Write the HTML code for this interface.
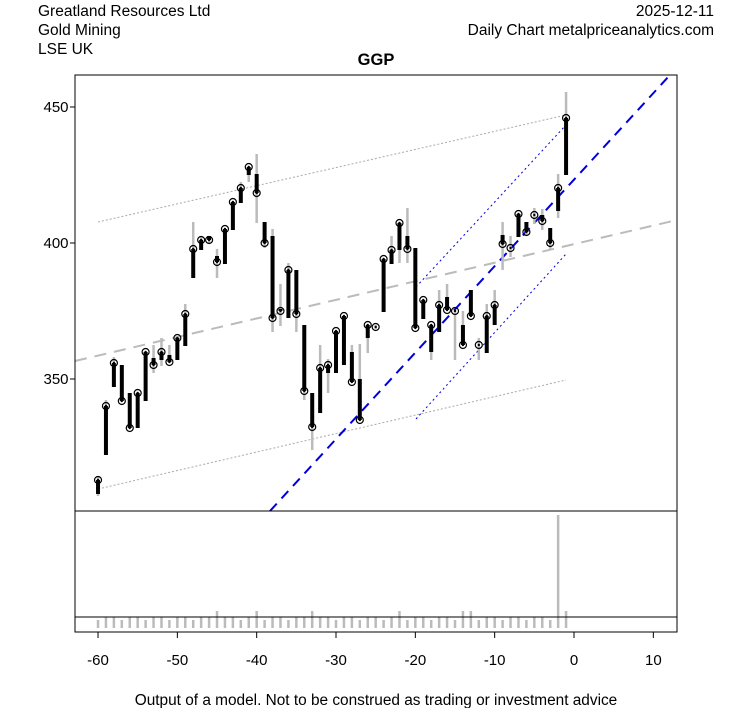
<!DOCTYPE html>
<html><head><meta charset="utf-8"><style>
body{margin:0;background:#fff}
svg{display:block;font-family:"Liberation Sans",Arial,sans-serif}
</style></head><body>
<svg id="s" width="753" height="708" xmlns="http://www.w3.org/2000/svg">
<rect width="753" height="708" fill="#fff"/>
<text x="38" y="16" font-size="15.5">Greatland Resources Ltd</text>
<text x="38" y="35" font-size="15.5">Gold Mining</text>
<text x="38" y="54" font-size="15.5">LSE UK</text>
<text x="714" y="16" font-size="15.5" text-anchor="end">2025-12-11</text>
<text x="714" y="35" font-size="15.5" text-anchor="end">Daily Chart metalpriceanalytics.com</text>
<text x="376" y="65" font-size="16.5" font-weight="bold" text-anchor="middle">GGP</text>
<text x="376" y="705" font-size="15.4" text-anchor="middle">Output of a model. Not to be construed as trading or investment advice</text>
<g id="vol"></g>
<line x1="75" y1="617" x2="677" y2="617" stroke="#000"/>
<line x1="75" y1="361" x2="677" y2="220" stroke="#bbb" stroke-width="2" stroke-dasharray="12,8"/>
<line x1="98" y1="222" x2="566" y2="115" stroke="#aaa" stroke-dasharray="2,2"/>
<line x1="98" y1="489" x2="566" y2="380" stroke="#aaa" stroke-dasharray="2,2"/>
<line x1="270" y1="511" x2="670" y2="75" stroke="#0000dd" stroke-width="2" stroke-dasharray="10,7"/>
<line x1="416" y1="287" x2="566" y2="125" stroke="#0000dd" stroke-dasharray="2,3"/>
<line x1="416" y1="419" x2="566" y2="254" stroke="#0000dd" stroke-dasharray="2,3"/>
<g id="c"></g>
<rect x="75" y="75" width="602" height="557" fill="none" stroke="#000"/>
<line x1="75" y1="511" x2="677" y2="511" stroke="#000"/>
<g font-size="15" text-anchor="middle">
<line x1="70" y1="107" x2="75" y2="107" stroke="#000"/><text x="56" y="112">450</text>
<line x1="70" y1="243" x2="75" y2="243" stroke="#000"/><text x="56" y="248">400</text>
<line x1="70" y1="379" x2="75" y2="379" stroke="#000"/><text x="56" y="384">350</text>
<g id="xt"></g>
</g>
</svg>
<script>
var ns="http://www.w3.org/2000/svg";
function el(p,t,a){var e=document.createElementNS(ns,t);for(var k in a)e.setAttribute(k,a[k]);p.appendChild(e);return e;}
var xt=document.getElementById('xt');
[-60,-50,-40,-30,-20,-10,0,10].forEach(function(d){var x=574+7.933*d;el(xt,'line',{x1:x,y1:632,x2:x,y2:638,stroke:'#000'});var t=el(xt,'text',{x:x,y:665});t.textContent=d;});
var D=[[-60,480,494,477,496],[-59,406,455,400,455],[-58,363,387,357,387],[-57,401,365,365,401],[-56,428,393,393,428],[-55,393,428,393,428],[-54,352,401,352,401],[-53,365,358,345,373],[-52,352,360,338,366],[-51,362,355,345,362],[-50,338,360,338,360],[-49,314,346,304,346],[-48,249,278,222,278],[-47,240,250,236,250],[-46,240,236,236,243],[-45,262,256,249,278],[-44,229,264,229,264],[-43,202,230,202,230],[-42,188,203,182,203],[-41,167,175,167,182],[-40,193,174,154,223],[-39,243,222,222,248],[-38,318,236,229,332],[-37,311,309,284,326],[-36,270,318,263,318],[-35,314,270,270,332],[-34,391,325,325,400],[-33,427,393,393,450],[-32,368,413,345,413],[-31,365,373,359,393],[-30,331,373,331,373],[-29,316,365,316,365],[-28,382,352,345,382],[-27,420,379,344,420],[-26,325,338,325,353],[-25,327,327,325,329],[-24,259,312,259,312],[-23,250,264,236,264],[-22,223,250,223,263],[-21,249,236,208,263],[-20,328,248,248,328],[-19,300,319,300,319],[-18,325,352,325,360],[-17,305,332,290,332],[-16,310,297,284,310],[-15,311,311,310,360],[-14,345,325,311,345],[-13,316,290,290,316],[-12,345,345,338,360],[-11,316,353,304,353],[-10,305,325,290,325],[-9,244,235,222,270],[-8,248,248,236,257],[-7,214,237,214,237],[-6,232,222,222,235],[-5,215,215,208,224],[-4,221,215,209,230],[-3,243,228,228,250],[-2,188,211,174,218],[-1,118,175,92,175]];
var c=document.getElementById('c'),v=document.getElementById('vol');
D.forEach(function(r){var x=574+7.933*r[0];
el(c,'line',{x1:x,y1:r[3],x2:x,y2:r[4],stroke:'#bbb','stroke-width':2.5});
el(c,'line',{x1:x,y1:Math.min(r[1],r[2]),x2:x,y2:Math.max(r[1],r[2])+0.01,stroke:'#000','stroke-width':4});
el(c,'circle',{cx:x,cy:r[1],r:3.5,fill:'none',stroke:'#000','stroke-width':1.2});
el(c,'circle',{cx:x,cy:r[1],r:1.2,fill:'#000'});
var h=[-45,-40,-33,-22,-14,-13].indexOf(r[0])>=0?17:11; if(r[0]==-2)h=113; if(r[0]==-1)h=17; if(r[0]%3==0&&h==11)h=8;
el(v,'line',{x1:x,y1:628,x2:x,y2:628-h,stroke:'#bbb','stroke-width':2.5});
});
</script>
</body></html>
